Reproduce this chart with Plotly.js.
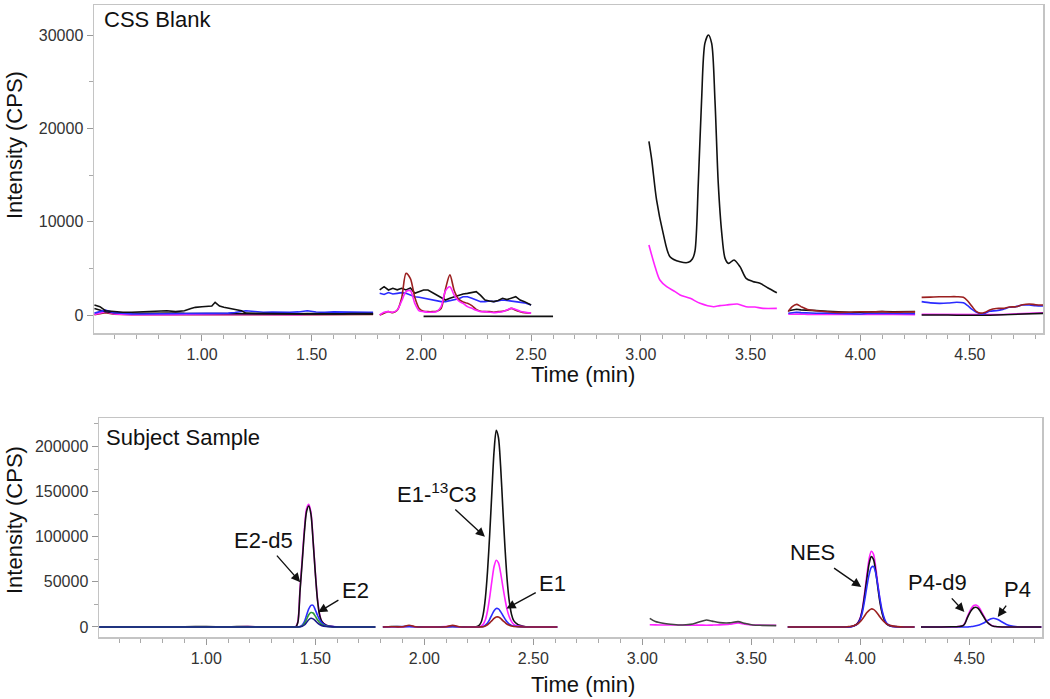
<!DOCTYPE html>
<html>
<head>
<meta charset="utf-8">
<script src="https://cdn.plot.ly/plotly-3.0.1.min.js"></script>
<style>html,body{margin:0;padding:0;background:#fff;}#chart{width:1050px;height:699px;}</style>
</head>
<body>
<div id="chart"></div>
<script>
// ===== Top panel: CSS Blank (time in min, intensity in CPS) =====
const blankW1Time = [0.51,0.535,0.56,0.60,0.64,0.68,0.72,0.76,0.80,0.84,0.88,0.92,0.95,0.97,1.00,1.03,1.045,1.06,1.08,1.10,1.12,1.15,1.18,1.20,1.24,1.28,1.32,1.36,1.40,1.44,1.48,1.52,1.56,1.60,1.64,1.68,1.72,1.76,1.78];
const blankW1BlackA = [1070,890,460,360,300,290,330,360,420,460,360,460,700,820,880,900,960,1360,960,820,714,560,464,200,180,150,170,140,160,120,150,130,160,140,120,150,130,160,150];
const blankW1BlackB = [700,520,350,250,200,220,190,210,230,200,220,180,170,160,180,170,190,200,180,170,160,150,140,130,120,110,130,100,120,110,100,120,110,100,120,110,100,110,120];
const blankW1Blue = [200,350,520,250,150,120,100,110,100,90,110,100,100,110,120,100,110,120,130,150,200,260,350,460,380,300,320,280,300,330,460,320,280,330,300,280,310,290,300];
const blankW1Magenta = [60,200,350,120,60,40,30,50,40,30,40,50,40,50,60,50,40,60,50,40,50,60,50,40,60,50,40,60,50,40,70,60,50,60,70,80,100,140,180];
const blankW1DarkRed = [30,120,250,80,30,20,30,20,30,40,30,20,30,40,30,20,30,40,30,20,30,40,30,20,30,40,30,20,30,40,30,20,30,40,30,20,30,40,50];

const blankW2Time = [1.81,1.83,1.85,1.87,1.89,1.91,1.93,1.95,1.97,1.99,2.01,2.03,2.05,2.07,2.09,2.11,2.13,2.15,2.17,2.19,2.21,2.23,2.25,2.27,2.29,2.31,2.33,2.35,2.37,2.39,2.41,2.43,2.45,2.47,2.50];
const blankW2Black = [2680,3030,2680,2860,2700,2860,2680,2900,2320,2500,2680,2680,2400,2140,1900,1600,1800,1960,2100,2250,2320,2450,2500,2100,1600,1500,1430,1550,1790,1650,1800,1960,1600,1430,1070];
const blankW2Blue = [2320,2200,2400,2250,2320,2400,2320,2100,1960,1900,1790,1700,1600,1500,1430,1430,1550,1600,1750,1960,1960,1800,1600,1430,1430,1500,1430,1500,1600,1550,1500,1430,1430,1300,1070];
const blankW2DarkRed = [0,200,360,250,500,1800,4460,3900,1900,700,400,360,360,400,700,2800,4300,2600,1700,1400,1250,1000,600,400,360,360,300,360,400,500,714,500,357,250,180];
const blankW2Magenta = [0,300,360,300,536,1500,2500,2600,1250,450,360,300,300,360,900,2600,3030,2100,1500,1250,900,714,500,360,360,300,250,300,350,536,714,600,400,300,200];
const blankW2bTime = [2.01,2.10,2.20,2.30,2.40,2.50,2.60];
const blankW2bBlack = [-150,-130,-160,-140,-150,-140,-150];

const blankW3BlackTime = [3.037,3.05,3.072,3.102,3.133,3.179,3.217,3.235,3.247,3.262,3.277,3.292,3.308,3.323,3.338,3.353,3.369,3.384,3.40,3.425,3.452,3.48,3.51,3.543,3.58,3.62];
const blankW3Black = [18600,16600,12300,8750,6250,5710,5640,6000,6860,14100,23000,29100,30000,29100,23000,14100,8750,6070,5530,5900,5180,3930,3600,3390,2900,2390];
const blankW3MagentaTime = [3.037,3.065,3.087,3.118,3.156,3.179,3.225,3.27,3.331,3.36,3.39,3.44,3.48,3.52,3.557,3.62];
const blankW3Magenta = [7500,5180,3750,3030,2500,2140,1790,1250,890,1000,1070,1180,890,850,714,714];

const blankW4Time = [3.672,3.69,3.71,3.73,3.76,3.80,3.85,3.90,3.95,4.00,4.05,4.10,4.15,4.20,4.25];
const blankW4DarkRed = [357,890,1140,900,600,464,350,286,300,350,320,357,300,320,330];
const blankW4Black = [464,550,607,550,480,464,400,330,300,300,360,380,340,350,357];
const blankW4Blue = [180,250,300,250,200,180,200,150,120,100,180,150,160,140,130];
const blankW4Magenta = [80,100,120,100,70,60,30,30,50,60,80,60,50,40,30];

const blankW5Time = [4.28,4.32,4.36,4.40,4.44,4.47,4.49,4.51,4.53,4.55,4.57,4.59,4.62,4.65,4.68,4.71,4.74,4.77,4.80,4.84];
const blankW5DarkRed = [1890,1920,1960,1960,1960,1900,1500,900,357,200,300,536,700,714,850,890,1100,1180,1100,1070];
const blankW5Blue = [1430,1300,1250,1280,1360,1300,1000,600,300,107,200,400,464,600,820,900,1070,1070,1000,964];
const blankW5Black = [0,20,10,0,-20,-30,-40,-50,-50,-40,-30,-20,0,20,40,60,100,140,160,180];
const blankW5Magenta = [71,60,50,40,30,20,10,0,0,0,10,20,40,60,80,100,150,200,230,250];

// ===== Bottom panel: Subject Sample =====
const sampleW1Time = [0.51,0.60,0.70,0.80,0.90,1.00,1.10,1.19,1.25,1.30,1.35,1.40,1.41,1.42,1.43,1.44,1.45,1.46,1.47,1.48,1.49,1.50,1.51,1.52,1.53,1.55,1.58,1.62,1.70,1.775];
const sampleW1Black = [0,100,0,100,300,400,200,600,100,0,0,0,0,5000,40000,72000,105000,128000,134000,125000,95000,60000,30000,13000,6000,2000,500,0,0,0];
const sampleW1Magenta = [200,0,100,0,200,300,100,400,0,0,0,0,200,6000,42000,75000,108000,131000,136000,127000,96000,61000,31000,13500,6000,2000,500,0,0,0];
const sampleW1Blue = [0,0,0,0,0,0,0,200,0,0,0,0,0,0,500,2000,6000,13000,20000,24000,24000,19000,13000,8000,4500,1500,400,0,0,0];
const sampleW1Green = [0,0,0,0,0,0,0,0,0,0,0,0,0,0,300,1300,4000,8500,13500,16000,15500,12000,8000,5000,2800,900,200,0,0,0];
const sampleW1Navy = [0,0,0,0,0,0,0,0,0,0,0,0,0,0,200,700,2200,5000,8000,9600,9000,7000,4500,2700,1500,500,100,0,0,0];

const sampleW2Time = [1.81,1.85,1.90,1.93,1.96,2.00,2.05,2.10,2.13,2.16,2.20,2.23,2.25,2.26,2.27,2.28,2.29,2.30,2.31,2.32,2.33,2.34,2.35,2.36,2.37,2.38,2.39,2.40,2.41,2.43,2.46,2.50,2.55,2.61];
const sampleW2Black = [0,500,300,800,300,0,0,300,500,200,0,0,1500,5000,14000,32000,62000,103000,150000,195000,218000,210000,178000,132000,88000,52000,28000,14000,7000,2500,600,100,0,0];
const sampleW2Magenta = [0,300,200,1000,300,0,0,400,800,300,0,0,0,1000,3000,8000,18000,33000,51000,67000,74000,71000,60000,45000,31000,19000,11000,6000,3000,1000,300,0,0,0];
const sampleW2Blue = [0,300,500,400,200,0,0,200,300,200,0,0,0,200,500,2000,4500,8500,13500,18000,20500,20000,17000,13000,9000,5500,3200,1800,1000,400,100,0,0,0];
const sampleW2DarkRed = [0,200,300,2000,300,0,0,300,1800,300,0,0,0,100,300,1200,2500,4500,7000,9500,11000,11000,9500,7000,5000,3000,1800,1000,500,200,0,0,0,0];

const sampleW3Time = [3.034,3.06,3.095,3.13,3.171,3.20,3.232,3.26,3.294,3.32,3.355,3.40,3.439,3.47,3.507,3.55,3.614];
const sampleW3Black = [9600,6000,4070,3000,2220,2500,3330,5500,7780,6500,4800,4500,5900,4000,2220,1800,1480];
const sampleW3Magenta = [2500,2300,2200,2200,2200,2100,2000,2100,2000,2100,2300,3000,4500,3200,2200,2000,1900];

const sampleW4Time = [3.667,3.75,3.85,3.92,3.94,3.96,3.98,3.99,4.00,4.01,4.02,4.03,4.04,4.05,4.06,4.07,4.08,4.09,4.10,4.11,4.12,4.14,4.17,4.20,4.248];
const sampleW4Black = [0,0,0,0,0,500,2500,5000,10000,20000,36000,54000,70000,78000,75000,62000,44000,27000,15000,7500,3500,800,200,0,0];
const sampleW4Magenta = [0,0,0,0,0,500,2700,5400,10800,21500,38800,58200,75400,84000,80800,66800,47400,29100,16200,8100,3800,900,200,0,0];
const sampleW4Blue = [0,0,0,0,0,400,2000,4200,8500,17000,30000,45000,58000,66000,67000,60000,46000,31000,18000,9500,4500,1200,300,0,0];
const sampleW4DarkRed = [0,0,0,0,300,800,2500,3800,6000,9000,12500,16000,18500,20000,19500,17500,14500,11000,8000,5500,3500,1500,400,0,0];

const sampleW5Time = [4.278,4.35,4.42,4.45,4.47,4.48,4.49,4.50,4.51,4.52,4.53,4.54,4.55,4.56,4.57,4.58,4.59,4.60,4.61,4.62,4.63,4.65,4.67,4.69,4.72,4.76,4.83];
const sampleW5Magenta = [0,0,200,600,1500,4500,11000,16500,21000,23800,24400,23000,19500,15000,10500,6500,3800,2000,1000,500,200,0,0,0,0,0,0];
const sampleW5Black = [0,0,200,500,1300,4000,9800,14800,18800,21300,21900,20600,17500,13400,9400,5800,3400,1800,900,450,200,0,0,0,0,0,0];
const sampleW5Blue = [0,0,0,0,0,0,0,200,500,900,1400,2000,2800,3800,5000,6500,8000,9200,9600,9200,8200,5500,2800,1200,300,0,0];

// Peak labels
const peakLabels = ['E2-d5','E2','E1-<sup>13</sup>C3','E1','NES','P4-d9','P4'];
const peakTimes = [1.431,1.513,2.278,2.377,4.004,4.477,4.63];
const peakValues = [49700,16300,100000,20400,44400,16700,11100];

// ===== Styling =====
const C = {black:'#111111', blue:'#2b2bff', magenta:'#ff22ff', red:'#9b1f1f', green:'#2e9a3a', navy:'#1c1c8a'};
const FONT = 'Liberation Sans, Arial, Helvetica, sans-serif';

function tr(x, y, color, panel, shape) {
  return {x: x, y: y, type: 'scatter', mode: 'lines',
    xaxis: panel === 1 ? 'x' : 'x2', yaxis: panel === 1 ? 'y' : 'y2',
    line: {color: color, width: 1.6, shape: shape || 'linear', smoothing: 0.8},
    hoverinfo: 'skip', showlegend: false};
}

const data = [
  tr(blankW1Time, blankW1DarkRed, C.red, 1),
  tr(blankW1Time, blankW1Magenta, C.magenta, 1),
  tr(blankW1Time, blankW1BlackB, C.black, 1),
  tr(blankW1Time, blankW1Blue, C.blue, 1),
  tr(blankW1Time, blankW1BlackA, C.black, 1),
  tr(blankW2bTime, blankW2bBlack, C.black, 1),
  tr(blankW2Time, blankW2Blue, C.blue, 1),
  tr(blankW2Time, blankW2Black, C.black, 1),
  tr(blankW2Time, blankW2DarkRed, C.red, 1, 'spline'),
  tr(blankW2Time, blankW2Magenta, C.magenta, 1, 'spline'),
  tr(blankW3MagentaTime, blankW3Magenta, C.magenta, 1, 'spline'),
  tr(blankW3BlackTime, blankW3Black, C.black, 1, 'spline'),
  tr(blankW4Time, blankW4Magenta, C.magenta, 1),
  tr(blankW4Time, blankW4Blue, C.blue, 1),
  tr(blankW4Time, blankW4Black, C.black, 1),
  tr(blankW4Time, blankW4DarkRed, C.red, 1, 'spline'),
  tr(blankW5Time, blankW5Magenta, C.magenta, 1),
  tr(blankW5Time, blankW5Black, C.black, 1),
  tr(blankW5Time, blankW5Blue, C.blue, 1, 'spline'),
  tr(blankW5Time, blankW5DarkRed, C.red, 1, 'spline'),

  tr(sampleW1Time, sampleW1Magenta, C.magenta, 2, 'spline'),
  tr(sampleW1Time, sampleW1Black, C.black, 2, 'spline'),
  tr(sampleW1Time, sampleW1Blue, C.blue, 2, 'spline'),
  tr(sampleW1Time, sampleW1Green, C.green, 2, 'spline'),
  tr(sampleW1Time, sampleW1Navy, C.navy, 2, 'spline'),
  tr(sampleW2Time, sampleW2Black, C.black, 2, 'spline'),
  tr(sampleW2Time, sampleW2Magenta, C.magenta, 2, 'spline'),
  tr(sampleW2Time, sampleW2Blue, C.blue, 2, 'spline'),
  tr(sampleW2Time, sampleW2DarkRed, C.red, 2, 'spline'),
  tr(sampleW3Time, sampleW3Magenta, C.magenta, 2, 'spline'),
  tr(sampleW3Time, sampleW3Black, '#444444', 2, 'spline'),
  tr(sampleW4Time, sampleW4Magenta, C.magenta, 2, 'spline'),
  tr(sampleW4Time, sampleW4Black, C.black, 2, 'spline'),
  tr(sampleW4Time, sampleW4Blue, C.blue, 2, 'spline'),
  tr(sampleW4Time, sampleW4DarkRed, C.red, 2, 'spline'),
  tr(sampleW5Time, sampleW5Blue, C.blue, 2, 'spline'),
  tr(sampleW5Time, sampleW5Magenta, C.magenta, 2, 'spline'),
  tr(sampleW5Time, sampleW5Black, C.black, 2, 'spline')
];

const W = 1050, H = 699;
function xaxisCfg(left, right) {
  return {domain: [left / W, right / W], range: [0.508, 4.833], tick0: 0, dtick: 0.5, tickformat: '.2f',
    ticks: 'outside', ticklen: 6, tickwidth: 1, tickcolor: '#999',
    minor: {dtick: 0.1, ticks: 'outside', ticklen: 4, tickcolor: '#aaa', showgrid: false},
    showline: true, linecolor: '#c4c4c4', linewidth: 1.5, mirror: true,
    showgrid: false, zeroline: false, fixedrange: true,
    tickfont: {family: FONT, size: 16, color: '#333'}};
}
function yaxisCfg(top, bottom, range, dtick, minor) {
  return {domain: [1 - bottom / H, 1 - top / H], range: range, tick0: 0, dtick: dtick, tickformat: 'd',
    ticks: 'outside', ticklen: 6, tickwidth: 1, tickcolor: '#999',
    minor: {dtick: minor, ticks: 'outside', ticklen: 4, tickcolor: '#aaa', showgrid: false},
    showline: true, linecolor: '#c4c4c4', linewidth: 1.5, mirror: true,
    showgrid: false, zeroline: false, fixedrange: true,
    tickfont: {family: FONT, size: 16, color: '#333'}};
}

const LBL = {family: FONT, size: 22, color: '#111'};
const annotations = [
  {text: 'CSS Blank', xref: 'paper', yref: 'paper', x: 102 / W, y: 1 - 20 / H, xanchor: 'left', yanchor: 'middle', showarrow: false, font: LBL},
  {text: 'Subject Sample', xref: 'paper', yref: 'paper', x: 104 / W, y: 1 - 437 / H, xanchor: 'left', yanchor: 'middle', showarrow: false, font: LBL},
  {text: 'Intensity (CPS)', xref: 'paper', yref: 'paper', x: 14 / W, y: 1 - 145 / H, textangle: -90, xanchor: 'center', yanchor: 'middle', showarrow: false, font: LBL},
  {text: 'Intensity (CPS)', xref: 'paper', yref: 'paper', x: 14 / W, y: 1 - 520 / H, textangle: -90, xanchor: 'center', yanchor: 'middle', showarrow: false, font: LBL},
  {text: 'Time (min)', xref: 'paper', yref: 'paper', x: 583 / W, y: 1 - 374 / H, xanchor: 'center', yanchor: 'middle', showarrow: false, font: LBL},
  {text: 'Time (min)', xref: 'paper', yref: 'paper', x: 583 / W, y: 1 - 684 / H, xanchor: 'center', yanchor: 'middle', showarrow: false, font: LBL}
];
const offsets = [[-37,-42],[37,-22],[-48,-44],[46,-25],[-49,-34],[-27,-29],[20,-27]];
peakLabels.forEach(function (lab, i) {
  annotations.push({text: lab, xref: 'x2', yref: 'y2', x: peakTimes[i], y: peakValues[i],
    ax: offsets[i][0], ay: offsets[i][1], showarrow: true, arrowhead: 2, arrowsize: 1.3, arrowwidth: 1.4,
    arrowcolor: '#111', standoff: 0, startstandoff: 2,
    font: LBL});
});

const layout = {
  width: W, height: H, margin: {l: 0, r: 0, t: 0, b: 0},
  paper_bgcolor: '#fff', plot_bgcolor: '#fff', showlegend: false,
  font: {family: FONT},
  xaxis: Object.assign(xaxisCfg(94, 1043), {anchor: 'y'}),
  yaxis: Object.assign(yaxisCfg(5, 333, [-1929, 33214], 10000, 5000), {anchor: 'x'}),
  xaxis2: Object.assign(xaxisCfg(99, 1042), {anchor: 'y2'}),
  yaxis2: Object.assign(yaxisCfg(418, 637, [-11100, 231600], 50000, 25000), {anchor: 'x2'}),
  annotations: annotations
};

Plotly.newPlot('chart', data, layout, {staticPlot: true, displayModeBar: false});
</script>
</body>
</html>
